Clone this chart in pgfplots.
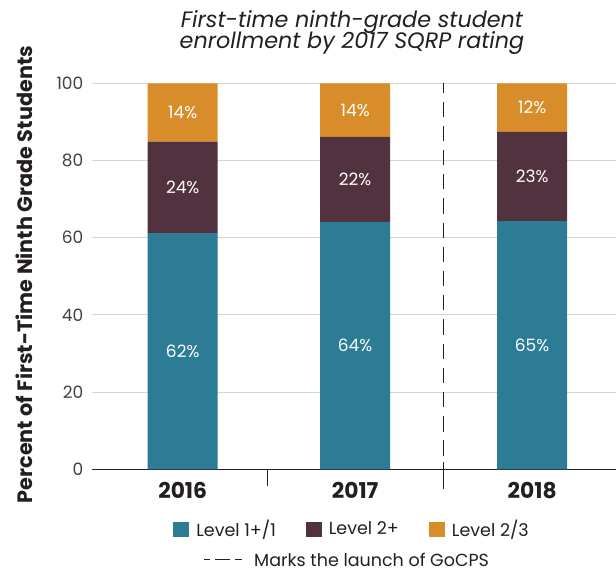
\documentclass[border=0pt]{standalone}
\usepackage{pgfplots}
\usepackage{pgfplotstable}
\pgfplotsset{compat=1.18}
\usepackage{fontspec}
\setmainfont{Poppins}
\definecolor{teal1}{HTML}{2C7C96}
\definecolor{maroon1}{HTML}{53323F}
\definecolor{orange1}{HTML}{D98D2A}
\definecolor{gridgray}{HTML}{D4D4D4}
\definecolor{txt}{HTML}{231F20}

\pgfplotstableread{
x a la b lb c lc
0 61.2 62 23.7 24 15.1 14
0.987 64.1 64 22.0 22 13.9 14
2 64.3 65 23.1 23 12.6 12
}\data

\begin{document}
\begin{tikzpicture}[x=1pt,y=1pt]
\begin{axis}[
  at={(91.5pt,101.7pt)}, anchor=south west,
  scale only axis, width=524.5pt, height=386pt,
  xmin=-0.522, xmax=2.48, ymin=0, ymax=100,
  ybar stacked, bar width=70pt,
  axis x line*=bottom, axis y line*=left,
  y axis line style={draw=none},
  x axis line style={draw=txt, line width=0.8pt, -},
  ytick={0,20,40,60,80,100},
  ymajorgrids, grid style={gridgray, line width=0.9pt},
  xtick={0,0.987,2}, xticklabels={2016,2017,2018},
  major tick length=0pt,
  tick style={draw=none},
  xticklabel style={anchor=base, inner sep=0pt, yshift=-29pt, font=\fontsize{21.8}{22}\selectfont\bfseries, text=txt},
  yticklabel style={anchor=east, inner sep=0pt, xshift=-8pt, font=\fontsize{17}{17}\selectfont, text=txt!85},
  /pgf/number format/assume math mode=true,
  clip=false,
  legend columns=3,
  legend style={draw=none, fill=none, at={(0.4948,-0.155)}, anchor=center,
    font=\fontsize{17.5}{18}\selectfont, text=txt,
    nodes={inner sep=0pt, xshift=0pt},
    /tikz/every odd column/.append style={column sep=7pt},
    /tikz/every even column/.append style={column sep=30pt}},
  legend image code/.code={\fill[#1] (0pt,-7.5pt) rectangle (16pt,7.5pt);},
  nodes near coords={\pgfmathprintnumber{\pgfplotspointmeta}\%},
  every node near coord/.append style={anchor=center, text=white,
     font=\fontsize{17}{17}\selectfont},
]
\addplot[fill=teal1, draw=none, point meta=\thisrow{la}] table[x=x,y=a] {\data};
\addplot[fill=maroon1, draw=none, point meta=\thisrow{lb}] table[x=x,y=b] {\data};
\addplot[fill=orange1, draw=none, point meta=\thisrow{lc}] table[x=x,y=c] {\data};
\legend{Level 1+/1, Level 2+, Level 2/3}
\end{axis}
\begin{axis}[
  at={(91.5pt,101.7pt)}, anchor=south west,
  scale only axis, width=524.5pt, height=386pt,
  xmin=-0.522, xmax=2.48, ymin=0, ymax=100,
  axis lines=none, clip=false,
]
\addplot[txt, line width=1pt, dash pattern=on 15.3pt off 8.9pt, dash phase=5.9pt] coordinates {(1.49,100) (1.49,0)};
\addplot[txt, line width=1pt] coordinates {(1.49,2) (1.49,-5.0)};
\addplot[txt, line width=1pt] coordinates {(0.488,0) (0.488,-4.2)};
\end{axis}
\node[rotate=90, font=\fontsize{20.8}{21}\selectfont\bfseries, text=txt] at (24pt,296.5pt) {Percent of First-Time Ninth Grade Students};
\node[anchor=base, font=\fontsize{22.3}{22}\selectfont\itshape, text=txt] at (352pt,543pt) {First-time ninth-grade student};
\node[anchor=base, font=\fontsize{22.3}{22}\selectfont\itshape, text=txt] at (352pt,522pt) {enrollment by 2017 SQRP rating};
\draw[txt, line width=0.9pt, dash pattern=on 6pt off 5pt on 15pt off 5pt on 7pt] (204pt,11.5pt) -- (242pt,11.5pt);
\node[anchor=west, inner sep=0pt, font=\fontsize{17.5}{18}\selectfont, text=txt] at (254pt,11.5pt) {Marks the launch of GoCPS};
\pgfresetboundingbox
\path[use as bounding box] (0,0) rectangle (616pt,571pt);
\end{tikzpicture}
\end{document}
